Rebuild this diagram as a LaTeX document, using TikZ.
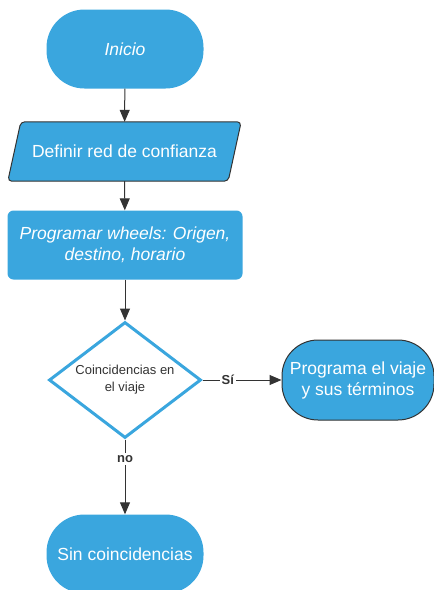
\documentclass[tikz,border=0pt]{standalone}
\usepackage{fontspec}
\setmainfont{Liberation Sans}
\usetikzlibrary{shapes.geometric,arrows.meta,backgrounds}
\definecolor{flujoazul}{RGB}{58,166,222}
\definecolor{flujogris}{RGB}{51,51,51}
\begin{document}
\begin{tikzpicture}[
    x=1pt, y=-1pt,
    every node/.style={font=\fontsize{17.5}{21}\selectfont, align=center, inner sep=0pt},
    terminal/.style={rectangle, rounded corners=38pt, fill=flujoazul, text=white, minimum width=157pt, minimum height=79pt},
    datos/.style={rectangle, text=white, minimum width=220pt, minimum height=59pt},
    datosborde/.style={fill=flujoazul, draw=flujogris, line width=1pt, rounded corners=4pt},
    proceso/.style={rectangle, rounded corners=6pt, fill=flujoazul, text=white, minimum width=235pt, minimum height=69pt},
    decision/.style={diamond, aspect=1.31, draw=flujoazul, line width=3pt, fill=white, text=flujogris, minimum width=152pt, minimum height=116pt, font=\fontsize{13}{17}\selectfont},
    resultado/.style={rectangle, rounded corners=36pt, fill=flujoazul, draw=flujogris, line width=1pt, text=white, minimum width=152pt, minimum height=80pt},
    flecha/.style={draw=flujogris, line width=1pt, -{Triangle[length=12pt,width=10pt]}},
    etiqueta/.style={fill=white, text=flujogris, font=\bfseries\fontsize{13}{15}\selectfont, inner sep=2pt}
    ]
    \useasboundingbox (0,0) rectangle (434,590);
    \node[terminal] (inicio) at (125,49) {\itshape Inicio};
    \node[datos] (red) at (124.5,151.5) {Definir red de confianza};
    \node[proceso] (wheels) at (125,245) {\itshape Programar wheels: Origen,\\ \itshape destino, horario};
    \node[decision] (coinc) at (125,380) {Coincidencias en\\el viaje};
    \node[resultado] (viaje) at (358,380) {Programa el viaje\\y sus términos};
    \node[terminal] (sin) at (125,554) {Sin coincidencias};
    % paralelogramo de datos
    \begin{scope}[on background layer]
      \draw[datosborde] ([xshift=6.5pt]red.north west) -- ([xshift=6.5pt]red.north east)
        -- ([xshift=-6.5pt]red.south east) -- ([xshift=-6.5pt]red.south west) -- cycle;
    \end{scope}
    % conectores
    \draw[flecha] (inicio) -- (red);
    \draw[flecha] (red) -- (wheels);
    \draw[flecha] (wheels) -- (coinc);
    \draw[flecha] (coinc) -- node[etiqueta, pos=0.32] {Sí} (viaje);
    \draw[flecha] (coinc) -- node[etiqueta, pos=0.26] {no} (sin);
\end{tikzpicture}
\end{document}
